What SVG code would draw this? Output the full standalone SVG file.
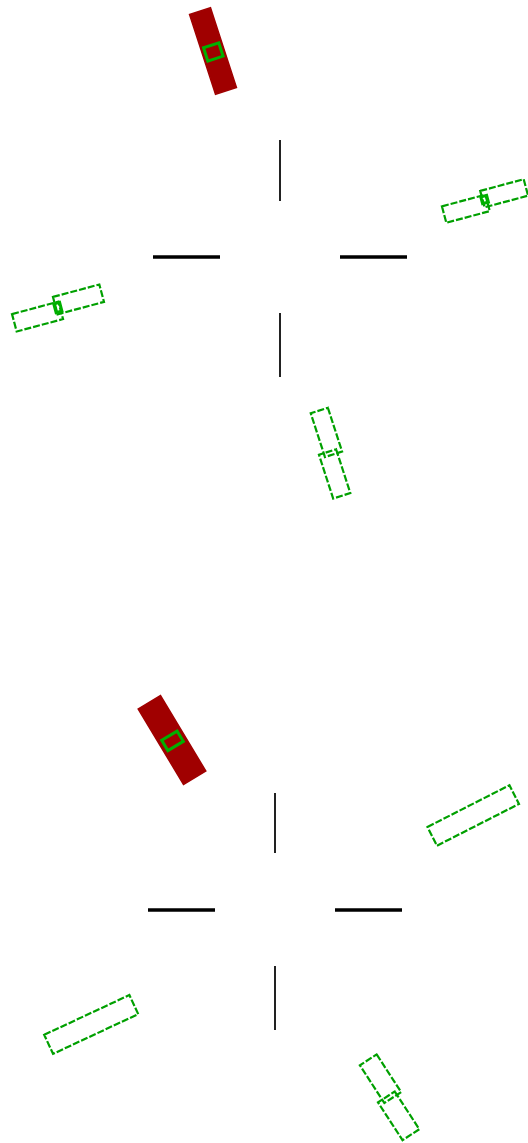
<svg xmlns="http://www.w3.org/2000/svg" width="528" height="1143" viewBox="0 0 528 1143">
<style>
.bg{fill:#ffffff}
.cv{stroke:#222;stroke-width:2;fill:none}
.ch{stroke:#000;stroke-width:3.5;fill:none}
.seg{fill:none;stroke:#00a000;stroke-width:2.2;stroke-dasharray:7 2}
.red{fill:#a00000;stroke:#a00000;stroke-width:1.5}
.joint{fill:none;stroke:#00b000;stroke-width:3}
</style>
<rect class="bg" x="0" y="0" width="528" height="1143"/>
<g id="crosshair-top">
<line class="cv" x1="280" y1="140" x2="280" y2="201"/>
<line class="cv" x1="280" y1="313" x2="280" y2="377"/>
<line class="ch" x1="153" y1="257" x2="220" y2="257"/>
<line class="ch" x1="340" y1="257" x2="407" y2="257"/>
</g>
<g id="crosshair-bottom">
<line class="cv" x1="275" y1="793" x2="275" y2="853"/>
<line class="cv" x1="275" y1="966" x2="275" y2="1030"/>
<line class="ch" x1="148" y1="910" x2="215" y2="910"/>
<line class="ch" x1="335" y1="910" x2="402" y2="910"/>
</g>
<g id="obj1" transform="translate(213,51) rotate(72)">
<rect class="red" x="-42" y="-11" width="84" height="22"/>
<rect class="joint" x="-6" y="-8" width="14" height="16"/>
</g>
<g id="obj2" transform="translate(485,201) rotate(-15)">
<rect class="seg" x="-43" y="-6" width="45" height="17"/>
<rect class="seg" x="-2" y="-11" width="45" height="17"/>
<rect class="joint" x="-3" y="-5" width="6" height="7"/>
</g>
<g id="obj3" transform="translate(58,308) rotate(-15)">
<rect class="seg" x="-46" y="-6" width="48" height="18"/>
<rect class="seg" x="-2" y="-12" width="48" height="18"/>
<rect class="joint" x="-3" y="-5" width="6" height="9"/>
</g>
<g id="obj4" transform="translate(331,453) rotate(72)">
<rect class="seg" x="-44" y="-11" width="46" height="18"/>
<rect class="seg" x="-2" y="-6" width="46" height="18"/>
</g>
<g id="obj5" transform="translate(172,740) rotate(59)">
<rect class="red" x="-44" y="-13" width="88" height="26"/>
<rect class="joint" x="-5" y="-9" width="12" height="18"/>
</g>
<g id="obj6" transform="translate(473,815) rotate(-27)">
<rect class="seg" x="-46" y="-10" width="92" height="21"/>
</g>
<g id="obj7" transform="translate(91,1024) rotate(-25)">
<rect class="seg" x="-47" y="-10" width="94" height="21"/>
</g>
<g id="obj8" transform="translate(390,1097) rotate(57)">
<rect class="seg" x="-43" y="-12" width="45" height="20"/>
<rect class="seg" x="-2" y="-7" width="45" height="20"/>
</g>
<g id="connectors"></g>
</svg>
